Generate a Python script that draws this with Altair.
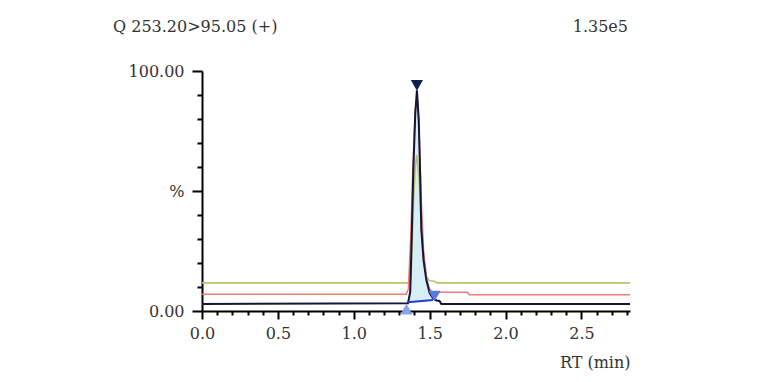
import altair as alt
import pandas as pd

# ---- data (RT in min, intensity in %) ----
black_rt = [0.0, 1.357, 1.372, 1.383, 1.392, 1.405, 1.416, 1.428, 1.438, 1.445, 1.46, 1.478, 1.50, 1.522, 1.545, 1.565, 1.577, 2.82]
black_pct = [2.9, 3.2, 8.0, 33.7, 58.0, 82.0, 92.0, 80.0, 55.0, 34.0, 21.0, 13.0, 7.5, 5.3, 4.4, 4.2, 2.9, 2.9]

red_rt = [0.0, 1.345, 1.36, 1.375, 1.39, 1.405, 1.418, 1.43, 1.445, 1.46, 1.48, 1.50, 1.52, 1.75, 1.76, 2.82]
red_pct = [7.0, 7.0, 9.0, 30.0, 60.0, 84.0, 90.0, 75.0, 45.0, 25.0, 13.0, 9.0, 7.8, 7.8, 6.8, 6.8]

green_rt = [0.0, 1.365, 1.378, 1.39, 1.405, 1.415, 1.43, 1.445, 1.46, 1.48, 1.50, 1.53, 1.55, 2.82]
green_pct = [11.7, 11.7, 14.0, 40.0, 60.0, 65.0, 55.0, 35.0, 22.0, 14.0, 12.6, 12.4, 11.7, 11.7]

base_rt = [1.357, 1.522]
base_pct = [3.6, 4.6]

marker_rt = [1.416, 1.347, 1.532]
marker_pct = [94.0, 0.8, 6.2]
marker_shape = ["triangle-down", "triangle-up", "triangle-down"]
marker_color = ["#0d1f4d", "#8aa0f0", "#5a78e0"]

title_left = "Q 253.20>95.05 (+)"
title_right = "1.35e5"
x_title = "RT (min)"

FONT = "DejaVu Serif"
TXT = "#333333"
FS = 16

black = pd.DataFrame({"rt": black_rt, "pct": black_pct})
red = pd.DataFrame({"rt": red_rt, "pct": red_pct})
green = pd.DataFrame({"rt": green_rt, "pct": green_pct})
base = pd.DataFrame({"rt": base_rt, "pct": base_pct})
markers = pd.DataFrame({"rt": marker_rt, "pct": marker_pct, "shape": marker_shape, "color": marker_color})

x_ticks = [round(i * 0.1, 1) for i in range(29)]
y_ticks = list(range(0, 101, 10))

xs = alt.Scale(domain=[0, 2.82], nice=False, zero=False)
ys = alt.Scale(domain=[0, 100], nice=False)

x_axis = alt.Axis(
    values=x_ticks, tickCount=100, grid=False, domainColor="black", domainWidth=2,
    tickColor="black", tickWidth=2,
    tickSize={"condition": {"test": "abs(datum.value*2 - round(datum.value*2)) < 0.001", "value": 8}, "value": 4},
    labelExpr="abs(datum.value*2 - round(datum.value*2)) < 0.001 ? format(datum.value, '.1f') : ''",
    labelOverlap=False, labelBound=False,
    labelFont=FONT, labelFontSize=FS, labelColor=TXT, labelPadding=6, labelFlush=False,
    title=x_title, titleFont=FONT, titleFontSize=FS, titleFontWeight="normal", titleColor=TXT,
    titleAnchor="end", titleAlign="right", titleX=428, titleY=51, titleBaseline="middle",
)
y_axis = alt.Axis(
    values=y_ticks, tickCount=100, grid=False, domainColor="black", domainWidth=2,
    tickColor="black", tickWidth=2,
    tickSize={"condition": {"test": "datum.value % 50 === 0", "value": 10}, "value": 5},
    labelExpr="datum.value === 50 ? '%' : (datum.value % 100 === 0 ? format(datum.value, '.2f') : '')",
    labelOverlap=False, labelBound=False, labelFlush=False,
    labelFont=FONT, labelFontSize=FS, labelColor=TXT, labelPadding=8,
    title=None,
)

fill = alt.Chart(black).transform_filter(
    "datum.rt >= 1.357 && datum.rt <= 1.522"
).transform_calculate(
    b=f"{base_pct[0]} + (datum.rt - {base_rt[0]}) * ({base_pct[1]} - {base_pct[0]}) / ({base_rt[1]} - {base_rt[0]})"
).mark_area(color="#d8eef5", opacity=1).encode(
    x=alt.X("rt:Q", scale=xs, axis=x_axis),
    y=alt.Y("pct:Q", scale=ys, axis=y_axis),
    y2="b:Q",
)

def trace(df, color, width):
    return alt.Chart(df).mark_line(color=color, strokeWidth=width, interpolate="linear").encode(
        x=alt.X("rt:Q", scale=xs), y=alt.Y("pct:Q", scale=ys)
    )

green_l = trace(green, "#b5c46e", 1.6)
red_l = trace(red, "#f07a7a", 1.6)
black_l = trace(black, "#151535", 2)
base_l = trace(base, "#1f3de0", 2)

mk = alt.Chart(markers).mark_point(filled=True, opacity=1, size=150).encode(
    x=alt.X("rt:Q", scale=xs), y=alt.Y("pct:Q", scale=ys),
    shape=alt.Shape("shape:N", scale=None),
    color=alt.Color("color:N", scale=None),
)

tl = alt.Chart().mark_text(font=FONT, fontSize=FS, color=TXT, align="left", baseline="middle").encode(
    x=alt.value(-89), y=alt.value(-44), text=alt.value(title_left)
)
tr = alt.Chart().mark_text(font=FONT, fontSize=FS, color=TXT, align="right", baseline="middle").encode(
    x=alt.value(426), y=alt.value(-44), text=alt.value(title_right)
)

chart = alt.layer(fill, green_l, red_l, black_l, base_l, mk, tl, tr).properties(
    width=428, height=240,
    autosize=alt.AutoSizeParams(type="none"),
    padding={"left": 194, "top": 63, "right": 100, "bottom": 70},
).configure(background="white").configure_view(stroke=None)

chart.save("out.html", embed_options={"renderer": "svg", "actions": False})
